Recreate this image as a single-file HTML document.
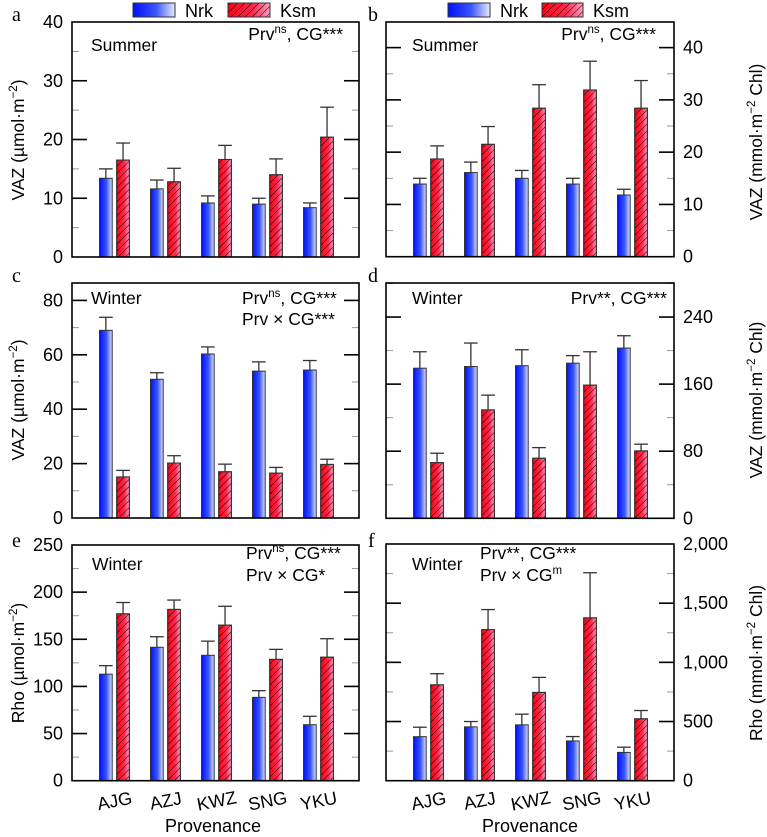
<!DOCTYPE html>
<html><head><meta charset="utf-8">
<style>
html,body{margin:0;padding:0;background:#fff;}
svg{display:block;font-family:"Liberation Sans",Arial,sans-serif;}
</style></head>
<body>
<svg id="chart" width="767" height="837" viewBox="0 0 767 837" xmlns="http://www.w3.org/2000/svg">
<defs>
<linearGradient id="gBlue" x1="0" x2="1" y1="0" y2="0">
<stop offset="0" stop-color="#0010ff"/><stop offset="0.55" stop-color="#3a55ff"/><stop offset="1" stop-color="#dfe4ff"/>
</linearGradient>
<linearGradient id="gRed" x1="0" x2="1" y1="0" y2="0">
<stop offset="0" stop-color="#ff0010"/><stop offset="0.6" stop-color="#ff2a50"/><stop offset="1" stop-color="#ffa0c0"/>
</linearGradient>
<pattern id="hatch" width="5" height="5" patternUnits="userSpaceOnUse" patternTransform="rotate(45)">
<line x1="0" y1="0" x2="0" y2="5" stroke="#000" stroke-width="1"/>
</pattern>
</defs>
<g id="root"></g>
</svg>
<script>
const provenances = ["AJG","AZJ","KWZ","SNG","YKU"];
// a: VAZ summer µmol m-2
const aNrk = [13.4,11.6,9.2,9.0,8.4];
const aNrkErr = [1.6,1.5,1.2,1.0,0.8];
const aKsm = [16.5,12.8,16.6,14.0,20.4];
const aKsmErr = [2.9,2.3,2.4,2.7,5.1];
// b: VAZ summer mmol m-2 Chl
const bNrk = [13.9,16.1,15.0,13.9,11.8];
const bNrkErr = [1.1,2.0,1.5,1.1,1.1];
const bKsm = [18.7,21.5,28.4,31.9,28.4];
const bKsmErr = [2.5,3.4,4.5,5.5,5.3];
// c: VAZ winter µmol m-2
const cNrk = [69.0,51.0,60.3,54.0,54.4];
const cNrkErr = [4.8,2.4,2.6,3.4,3.5];
const cKsm = [15.1,20.2,17.0,16.5,19.7];
const cKsmErr = [2.4,2.7,2.8,2.1,1.9];
// d: VAZ winter mmol m-2 Chl
const dNrk = [179,181,182,185,203];
const dNrkErr = [19.6,28,19,9,14.7];
const dKsm = [66.4,129.3,71.6,158.8,80.4];
const dKsmErr = [11.2,17.6,12.7,39.8,8.0];
// e: Rho winter µmol m-2
const eNrk = [113,141.5,133,88.4,59.4];
const eNrkErr = [9,11.2,15,7.1,8.9];
const eKsm = [177,181.7,165,128.7,131];
const eKsmErr = [12,9.9,20,10.6,19.6];
// f: Rho winter mmol m-2 Chl
const fNrk = [372,455,472,336,239];
const fNrkErr = [80,45,90,37,44];
const fKsm = [810,1277,746,1376,523];
const fKsmErr = [94,169,127,381,70];
const aTicks = [0,10,20,30,40];
const bTicks = [0,10,20,30,40];
const cTicks = [0,20,40,60,80];
const dTicks = [0,80,160,240];
const eTicks = [0,50,100,150,200,250];
const fTicks = [0,500,1000,1500,2000];
const fTickLabels = ["0","500","1,000","1,500","2,000"];

const NS="http://www.w3.org/2000/svg";
const root=document.getElementById('root');
function mk(tag,attrs,parent){const e=document.createElementNS(NS,tag);for(const k in attrs)e.setAttribute(k,attrs[k]);(parent||root).appendChild(e);return e;}

const panels=[
 {id:'a',x0:72,x1:359,y0:22,y1:257,v0:0,v1:40,nrk:aNrk,ne:aNrkErr,ksm:aKsm,ke:aKsmErr,ticks:aTicks,minor:5,side:'left'},
 {id:'b',x0:386,x1:674,y0:22,y1:256.7,v0:0,v1:44.9,nrk:bNrk,ne:bNrkErr,ksm:bKsm,ke:bKsmErr,ticks:bTicks,minor:5,side:'right'},
 {id:'c',x0:72,x1:359,y0:283,y1:518,v0:0,v1:86.4,nrk:cNrk,ne:cNrkErr,ksm:cKsm,ke:cKsmErr,ticks:cTicks,minor:10,side:'left'},
 {id:'d',x0:386,x1:674,y0:283,y1:518.3,v0:0,v1:280.6,nrk:dNrk,ne:dNrkErr,ksm:dKsm,ke:dKsmErr,ticks:dTicks,minor:40,side:'right'},
 {id:'e',x0:72,x1:359,y0:545,y1:780.7,v0:0,v1:250,nrk:eNrk,ne:eNrkErr,ksm:eKsm,ke:eKsmErr,ticks:eTicks,minor:25,side:'left'},
 {id:'f',x0:386,x1:674,y0:544,y1:780.7,v0:0,v1:2000,nrk:fNrk,ne:fNrkErr,ksm:fKsm,ke:fKsmErr,ticks:fTicks,labels:fTickLabels,minor:250,side:'right'}
];

panels.forEach(p=>{
 const g=mk('g',{});
 
 
 const y=v=>p.y1-(v-p.v0)/(p.v1-p.v0)*(p.y1-p.y0);
 const xGroup=i=>p.x0+27.5+i*51;
 for(let v=p.minor;v<p.v1;v+=p.minor){
  if(p.ticks.includes(v))continue;
  const yy=y(v);
  const t1=mk('line',{x1:p.x0,x2:p.x0+7,y1:yy,y2:yy,stroke:'#999','stroke-width':1},g);
  
  
  const t2=mk('line',{x1:p.x1-7,x2:p.x1,y1:yy,y2:yy,stroke:'#999','stroke-width':1},g);
  
  
 }
 p.ticks.forEach((v,k)=>{
  const yy=y(v);
  if(v>p.v0&&v<p.v1){
   const t1=mk('line',{x1:p.x0,x2:p.x0+15,y1:yy,y2:yy,stroke:'#000','stroke-width':1.6},g);
   
   
   const t2=mk('line',{x1:p.x1-15,x2:p.x1,y1:yy,y2:yy,stroke:'#000','stroke-width':1.6},g);
   
   
  }
  const lab=p.labels?p.labels[k]:String(v);
  const tx=p.side==='left'?mk('text',{x:p.x0-9,y:yy+6,'text-anchor':'end','font-size':18},g):mk('text',{x:p.x1+9,y:yy+6,'text-anchor':'start','font-size':18},g);
  tx.textContent=lab;
  
  
 });
 provenances.forEach((pv,i)=>{
  const xb=xGroup(i), bw=12.7;
  [[p.nrk,p.ne,'url(#gBlue)',xb,false],[p.ksm,p.ke,'url(#gRed)',xb+17.2,true]].forEach(([vals,errs,fill,bx,hatch])=>{
   const top=y(vals[i]), etop=y(vals[i]+errs[i]);
   const el=mk('line',{x1:bx+bw/2,x2:bx+bw/2,y1:top,y2:etop,stroke:'#333','stroke-width':1.3},g);
   
   
   const cap=mk('line',{x1:bx-0.5,x2:bx+bw+0.5,y1:etop,y2:etop,stroke:'#333','stroke-width':1.3},g);
   
   
   const r=mk('rect',{x:bx,y:top,width:bw,height:p.y1-top,fill:fill,stroke:'#333','stroke-width':1},g);
   
   
   if(hatch){
    const h=mk('rect',{x:bx,y:top,width:bw,height:p.y1-top,fill:'url(#hatch)',stroke:'#333','stroke-width':1},g);
    
    
   }
  });
 });
 const fr=mk('rect',{x:p.x0,y:p.y0,width:p.x1-p.x0,height:p.y1-p.y0,fill:'none',stroke:'#000','stroke-width':1.6},g);
 
 
 if(p.id==='e'||p.id==='f'){
  provenances.forEach((pv,i)=>{
   const cx=xGroup(i)+15;
   const t=mk('text',{x:cx,y:807,'text-anchor':'middle','font-size':18,transform:`rotate(-11 ${cx} 800)`},g);
   t.textContent=pv;
   
   
  });
 }
});
</script>
<svg width="767" height="837" viewBox="0 0 767 837" style="position:absolute;left:0;top:0;font-family:'Liberation Sans',Arial,sans-serif;" xmlns="http://www.w3.org/2000/svg">
<defs>
<linearGradient id="gBlue2" x1="0" x2="1"><stop offset="0" stop-color="#0010ff"/><stop offset="0.55" stop-color="#3a55ff"/><stop offset="1" stop-color="#e8ecff"/></linearGradient>
<linearGradient id="gRed2" x1="0" x2="1"><stop offset="0" stop-color="#ff0010"/><stop offset="0.6" stop-color="#ff2a50"/><stop offset="1" stop-color="#ffa0c0"/></linearGradient>
<pattern id="hatch2" width="5" height="5" patternUnits="userSpaceOnUse" patternTransform="rotate(45)"><line x1="0" y1="0" x2="0" y2="5" stroke="#000" stroke-width="1"/></pattern>
</defs>
<g font-family="'Liberation Serif',serif" font-size="20">
<text x="12" y="21">a</text>
<text x="368" y="21">b</text>
<text x="12" y="282">c</text>
<text x="368" y="282">d</text>
<text x="12" y="547">e</text>
<text x="368" y="547">f</text>
</g>
<g font-size="18">
<rect x="133" y="3" width="42" height="14" fill="url(#gBlue2)" stroke="#333"/>
<text x="185" y="17">Nrk</text>
<rect x="228" y="3" width="42" height="14" fill="url(#gRed2)" stroke="#333"/>
<rect x="228" y="3" width="42" height="14" fill="url(#hatch2)" stroke="#333"/>
<text x="280" y="17">Ksm</text>
</g>
<g font-size="18">
<rect x="448" y="3" width="42" height="14" fill="url(#gBlue2)" stroke="#333"/>
<text x="500" y="17">Nrk</text>
<rect x="542" y="3" width="41" height="14" fill="url(#gRed2)" stroke="#333"/>
<rect x="542" y="3" width="41" height="14" fill="url(#hatch2)" stroke="#333"/>
<text x="593" y="17">Ksm</text>
</g>
<g font-size="17.5">
<text x="91" y="51">Summer</text>
<text x="343" y="40" text-anchor="end">Prv<tspan font-size="11.5" dy="-7">ns</tspan><tspan dy="7">, CG***</tspan></text>
<text x="412" y="51">Summer</text>
<text x="656" y="40" text-anchor="end">Prv<tspan font-size="11.5" dy="-7">ns</tspan><tspan dy="7">, CG***</tspan></text>
<text x="91" y="304">Winter</text>
<text x="242" y="304">Prv<tspan font-size="11.5" dy="-7">ns</tspan><tspan dy="7">, CG***</tspan></text>
<text x="242" y="325">Prv × CG***</text>
<text x="412" y="304">Winter</text>
<text x="667" y="304" text-anchor="end">Prv**, CG***</text>
<text x="92" y="570">Winter</text>
<text x="246" y="559">Prv<tspan font-size="11.5" dy="-7">ns</tspan><tspan dy="7">, CG***</tspan></text>
<text x="246" y="581">Prv × CG*</text>
<text x="412" y="570">Winter</text>
<text x="480" y="559">Prv**, CG***</text>
<text x="480" y="581">Prv × CG<tspan font-size="11.5" dy="-7">m</tspan></text>
</g>
<g font-size="17.5">
<text transform="translate(24 140) rotate(-90)" text-anchor="middle">VAZ (µmol·m<tspan font-size="11.5" dy="-7">−2</tspan><tspan dy="7">)</tspan></text>
<text transform="translate(24 400) rotate(-90)" text-anchor="middle">VAZ (µmol·m<tspan font-size="11.5" dy="-7">−2</tspan><tspan dy="7">)</tspan></text>
<text transform="translate(24 663) rotate(-90)" text-anchor="middle">Rho (µmol·m<tspan font-size="11.5" dy="-7">−2</tspan><tspan dy="7">)</tspan></text>
<text transform="translate(762 142) rotate(-90)" text-anchor="middle">VAZ (mmol·m<tspan font-size="11.5" dy="-7">−2</tspan><tspan dy="7"> Chl)</tspan></text>
<text transform="translate(762 400) rotate(-90)" text-anchor="middle">VAZ (mmol·m<tspan font-size="11.5" dy="-7">−2</tspan><tspan dy="7"> Chl)</tspan></text>
<text transform="translate(762 663) rotate(-90)" text-anchor="middle">Rho (mmol·m<tspan font-size="11.5" dy="-7">−2</tspan><tspan dy="7"> Chl)</tspan></text>
<text x="213" y="832" text-anchor="middle" font-size="18">Provenance</text>
<text x="530" y="832" text-anchor="middle" font-size="18">Provenance</text>
</g>
</svg>
</body></html>
